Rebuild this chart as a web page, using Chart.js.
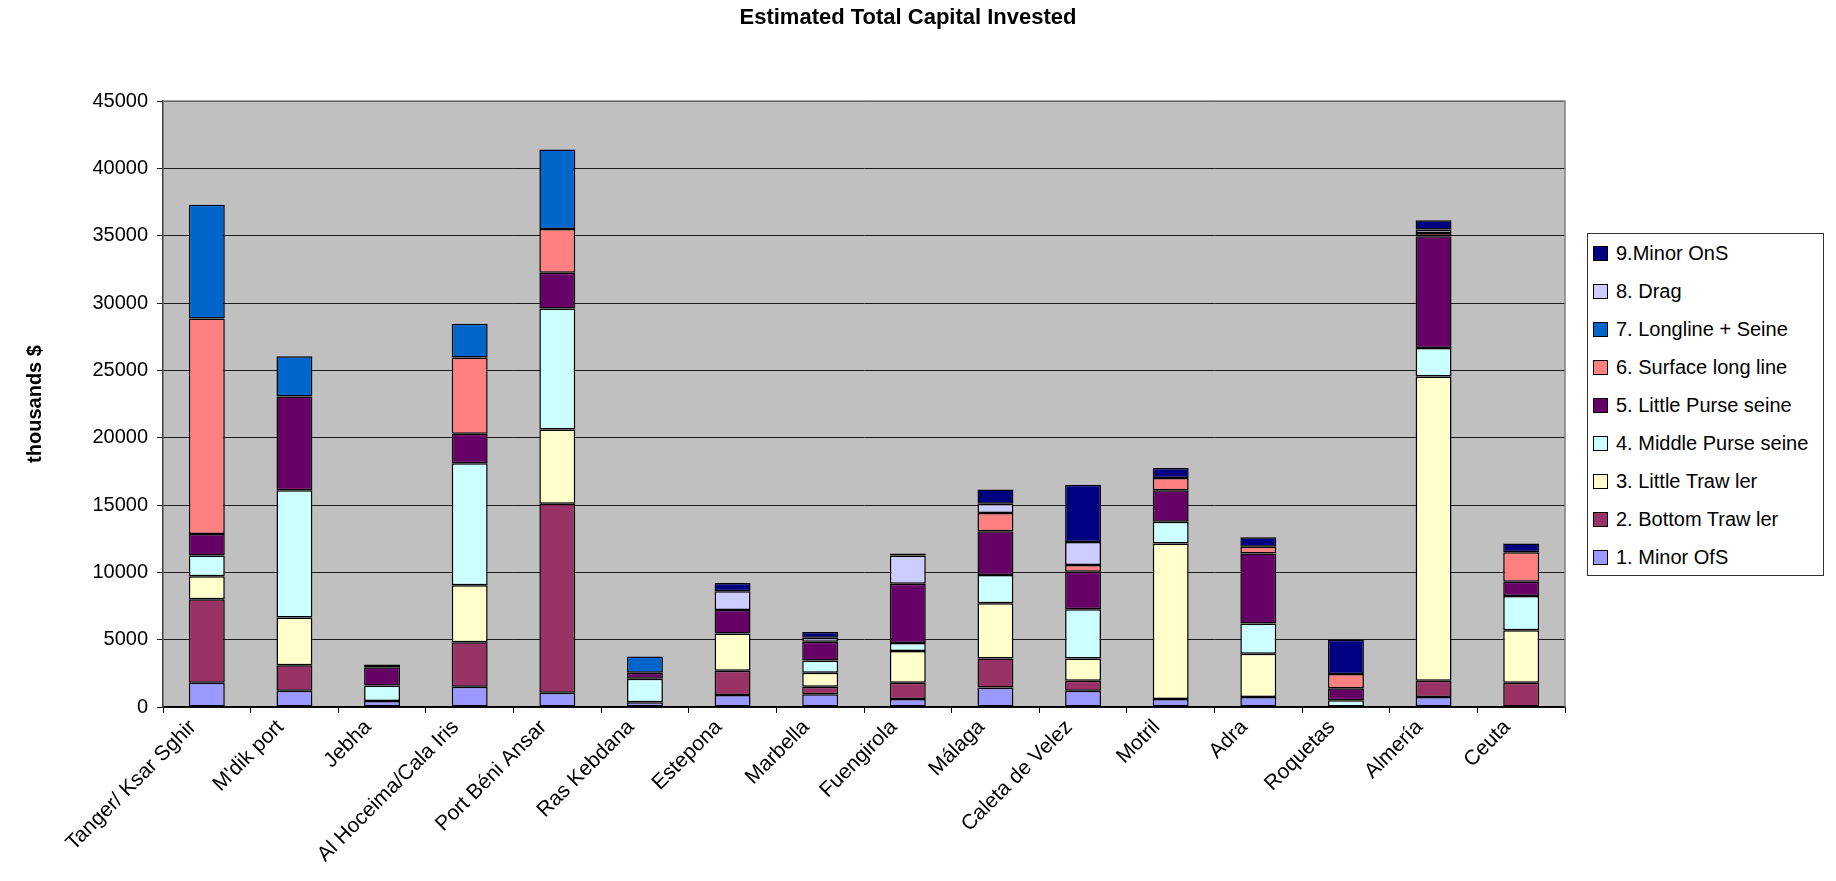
<!DOCTYPE html>
<html>
<head>
<meta charset="utf-8">
<script src="https://cdn.jsdelivr.net/npm/chart.js@4.4.0/dist/chart.umd.min.js"></script>
<style>
  body { margin: 0; background: #fff; }
  #wrap { position: relative; width: 1836px; height: 881px; }
  #legend {
    position: absolute; left: 1587px; top: 233px; width: 237px; height: 343px;
    border: 1px solid #333; box-sizing: border-box; background: #fff;
    font-family: "Liberation Sans", Arial, sans-serif; font-size: 20px; color: #000;
  }
  .item { height: 38px; display: flex; align-items: center; padding-left: 5px; }
  .sw { width: 13px; height: 13px; border: 1px solid #000; margin-right: 8px; flex: none; }
</style>
</head>
<body>
<div id="wrap">
  <canvas id="chart" width="1836" height="881"></canvas>
  <div id="legend"></div>
</div>
<script>
// categories (ports)
const ports = ["Tanger/ Ksar Sghir", "M'dik port", "Jebha", "Al Hoceima/Cala Iris", "Port Béni Ansar",
    "Ras Kebdana", "Estepona", "Marbella", "Fuengirola", "Málaga", "Caleta de Velez", "Motril",
    "Adra", "Roquetas", "Almería", "Ceuta"];

// thousands $ per fleet segment
const minorOfS      = [1800, 1200, 450, 1500, 1050, 350, 900, 950, 600, 1450, 1200, 600, 750, 0, 750, 0];
const bottomTrawler = [6200, 1900, 0, 3300, 14050, 0, 1800, 550, 1200, 2150, 750, 0, 0, 0, 1200, 1800];
const littleTrawler = [1700, 3550, 0, 4250, 5500, 0, 2750, 1050, 2350, 4100, 1650, 11550, 3200, 0, 22600, 3900];
const middlePurse   = [1550, 9450, 1150, 9050, 9000, 1750, 0, 900, 600, 2100, 3650, 1600, 2250, 500, 2100, 2550];
const littlePurse   = [1600, 6950, 1350, 2200, 2650, 450, 1750, 1400, 4400, 3250, 2800, 2350, 5200, 900, 8300, 1050];
const surfaceLong   = [16000, 0, 0, 5650, 3250, 0, 0, 0, 0, 1350, 500, 900, 500, 1050, 250, 2200];
const longlineSeine = [8450, 3000, 0, 2500, 5900, 1200, 0, 0, 0, 0, 0, 0, 0, 0, 0, 0];
const drag          = [0, 0, 0, 0, 0, 0, 1400, 300, 2100, 700, 1700, 0, 0, 0, 250, 0];
const minorOnS      = [0, 0, 200, 0, 0, 0, 600, 420, 150, 1050, 4250, 750, 700, 2550, 700, 650];

const seriesNames = ["1. Minor  OfS", "2. Bottom Traw ler", "3. Little Traw ler", "4. Middle Purse seine",
    "5. Little Purse seine", "6. Surface long line", "7. Longline + Seine", "8. Drag", "9.Minor OnS"];
const seriesColors = ["#9999ff", "#993366", "#ffffcc", "#ccffff", "#660066", "#ff8080", "#0066cc", "#ccccff", "#000080"];
const seriesData = [minorOfS, bottomTrawler, littleTrawler, middlePurse, littlePurse,
    surfaceLong, longlineSeine, drag, minorOnS];

const yTicks = [0, 5000, 10000, 15000, 20000, 25000, 30000, 35000, 40000, 45000];

const FONT = "'Liberation Sans', Arial, sans-serif";

const datasets = seriesData.map((d, i) => ({
    label: seriesNames[i],
    data: d,
    backgroundColor: seriesColors[i],
    borderColor: "#000",
    borderWidth: 1.5,
    borderSkipped: false,
    barPercentage: 0.41,
    categoryPercentage: 1.0
}));

// grey plot area, frame and the two titles
const decorations = {
    id: "decorations",
    beforeDraw(chart) {
        const { ctx, chartArea: a } = chart;
        ctx.save();
        ctx.fillStyle = "#c0c0c0";
        ctx.fillRect(a.left, a.top, a.right - a.left, a.bottom - a.top);
        ctx.restore();
    },
    afterDraw(chart) {
        const { ctx, chartArea: a } = chart;
        ctx.save();
        ctx.strokeStyle = "#808080";
        ctx.lineWidth = 1.5;
        ctx.beginPath();
        ctx.moveTo(a.left, a.top);
        ctx.lineTo(a.right, a.top);
        ctx.lineTo(a.right, a.bottom);
        ctx.stroke();

        ctx.fillStyle = "#000";
        ctx.font = "bold 22px " + FONT;
        ctx.textAlign = "center";
        ctx.textBaseline = "middle";
        ctx.fillText("Estimated Total Capital Invested", 908, 18);

        ctx.font = "bold 20px " + FONT;
        ctx.translate(35, (a.top + a.bottom) / 2);
        ctx.rotate(-Math.PI / 2);
        ctx.fillText("thousands $", 0, 0);
        ctx.restore();
    }
};

const chart = new Chart(document.getElementById("chart").getContext("2d"), {
    type: "bar",
    data: { labels: ports, datasets: datasets },
    options: {
        responsive: false,
        animation: false,
        layout: { padding: { left: 0, right: 271, top: 101, bottom: 0 } },
        plugins: {
            legend: { display: false },
            tooltip: { enabled: false }
        },
        scales: {
            x: {
                stacked: true,
                grid: { offset: true, drawOnChartArea: false, tickLength: 6, color: "#000" },
                border: { color: "#000", width: 1.5 },
                ticks: {
                    minRotation: 45, maxRotation: 45, padding: 2, labelOffset: -14,
                    color: "#000", font: { family: FONT, size: 21 }
                },
                afterFit(scale) { scale.height = 174; }
            },
            y: {
                stacked: true,
                min: 0,
                max: 45000,
                afterBuildTicks(scale) { scale.ticks = yTicks.map(v => ({ value: v })); },
                grid: { color: "#1a1a1a", tickLength: 6 },
                border: { color: "#404040", width: 1.5 },
                ticks: {
                    padding: 9, color: "#000", font: { family: FONT, size: 20 },
                    callback: v => String(v)
                },
                afterFit(scale) { scale.width = 163; }
            }
        }
    },
    plugins: [decorations]
});

// legend, top item = last series
const legendBox = document.getElementById("legend");
legendBox.innerHTML = datasets.slice().reverse().map(ds =>
    `<div class="item"><span class="sw" style="background:${ds.backgroundColor}"></span>${ds.label}</div>`
).join("");
</script>
</body>
</html>
